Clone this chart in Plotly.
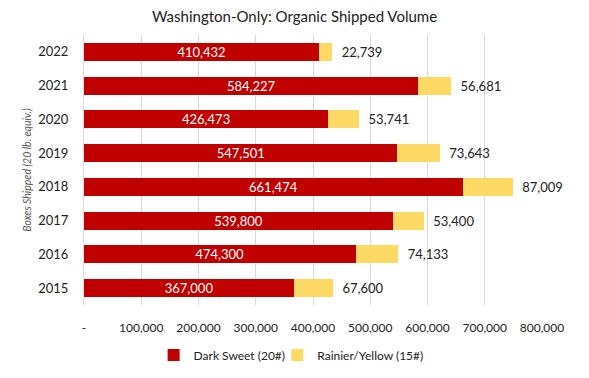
import plotly.graph_objects as go

years = ["2015", "2016", "2017", "2018", "2019", "2020", "2021", "2022"]
dark_sweet = [367000, 474300, 539800, 661474, 547501, 426473, 584227, 410432]
rainier = [67600, 74133, 53400, 87009, 73643, 53741, 56681, 22739]
tick_vals = [0, 100000, 200000, 300000, 400000, 500000, 600000, 700000, 800000]
tick_text = ["-", "100,000", "200,000", "300,000", "400,000", "500,000", "600,000", "700,000", "800,000"]

FONT = "Source Sans Pro, Lato, Noto Sans, sans-serif"

fig = go.Figure()
fig.add_trace(go.Bar(
    y=years, x=dark_sweet, orientation="h", name="Dark Sweet (20#)",
    marker=dict(color="#C00000", line=dict(width=0)), legend="legend",
    text=[f"{v:,}" for v in dark_sweet], textposition="inside", constraintext="none",
    insidetextanchor="middle", textfont=dict(color="white", size=13, family=FONT),
))
fig.add_trace(go.Bar(
    y=years, x=rainier, orientation="h", name="Rainier/Yellow (15#)",
    marker=dict(color="#FFD966", line=dict(width=0)), legend="legend2",
    text=["\u00a0\u00a0" + f"{v:,}" for v in rainier], textposition="outside", constraintext="none",
    textfont=dict(color="#222222", size=13, family=FONT), cliponaxis=False,
))

leg_common = dict(orientation="h", xanchor="left", y=-0.185, yanchor="middle",
                  font=dict(size=12, color="#222222"), itemwidth=30, bgcolor="rgba(0,0,0,0)")

fig.update_layout(
    barmode="stack",
    bargap=0.47,
    width=589, height=378,
    margin=dict(l=84, r=47, t=35, b=73, autoexpand=False),
    paper_bgcolor="white", plot_bgcolor="white",
    font=dict(family=FONT, color="#222222", size=12),
    title=dict(text="Washington-Only: Organic Shipped Volume", x=0.5, xanchor="center",
               y=0.955, yanchor="middle", font=dict(size=15, color="#222222", family=FONT)),
    xaxis=dict(range=[0, 800000], tickvals=tick_vals, ticktext=tick_text, automargin=False,
               showgrid=True, gridcolor="#D9D9D9", gridwidth=1, zeroline=False,
               showline=False, ticks="", tickfont=dict(size=12, color="#222222"), ticklabelstandoff=14),
    yaxis=dict(categoryorder="array", categoryarray=years, showgrid=False, automargin=False,
               showline=True, linecolor="#D9D9D9", ticks="", ticklabelstandoff=12,
               tickfont=dict(size=13, color="#222222"),
               title=dict(text="<i>Boxes Shipped (20 lb. equiv.)</i>", standoff=4,
                          font=dict(size=10.5, color="#595959"))),
    legend=dict(x=0.152, **leg_common),
    legend2=dict(x=0.422, **leg_common),
    showlegend=True,
)

fig.write_html("out.html", config={"displayModeBar": False},
               post_script="document.body.style.margin='0px';document.body.style.overflow='hidden';")
